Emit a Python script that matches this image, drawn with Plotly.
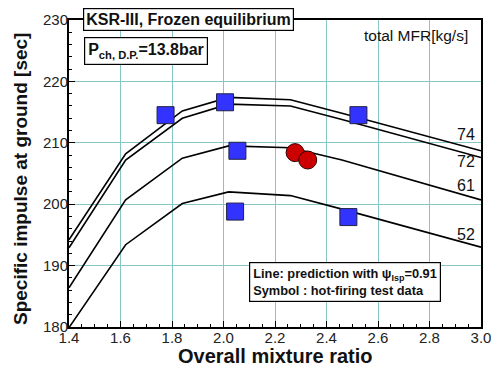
import plotly.graph_objects as go

# Prediction lines (Isp vs overall mixture ratio) for each total MFR [kg/s]
mr_line = [1.4, 1.62, 1.84, 2.02, 2.26, 2.46, 3.0]
isp_74 = [194.2, 208.2, 215.2, 217.4, 217.0, 214.8, 208.7]
isp_72 = [192.9, 207.2, 214.0, 216.3, 216.0, 213.8, 207.6]
isp_61 = [186.4, 200.7, 207.5, 209.5, 209.2, 207.2, 200.7]
isp_52 = [179.9, 193.4, 200.1, 202.0, 201.4, 199.2, 193.0]
mfr_labels = ["74", "72", "61", "52"]
label_x = [2.94, 2.94, 2.94, 2.94]
label_y = [211.4, 206.9, 203.1, 195.0]

# Hot-firing test data
sq_mr = [1.775, 2.006, 2.054, 2.045, 2.485, 2.524]
sq_isp = [214.5, 216.6, 208.7, 198.8, 197.9, 214.5]
ci_mr = [2.278, 2.327]
ci_isp = [208.4, 207.2]

FONT = "Liberation Sans, Arial, sans-serif"
fig = go.Figure()
for ys in [isp_74, isp_72, isp_61, isp_52]:
    fig.add_trace(go.Scatter(x=mr_line, y=ys, mode="lines",
                             line=dict(color="black", width=1.6),
                             showlegend=False, hoverinfo="skip"))
fig.add_trace(go.Scatter(x=sq_mr, y=sq_isp, mode="markers",
                         marker=dict(symbol="square", size=17, color="#3333FF",
                                     line=dict(color="#222244", width=1)),
                         showlegend=False))
fig.add_trace(go.Scatter(x=ci_mr, y=ci_isp, mode="markers",
                         marker=dict(symbol="circle", size=18, color="#CC0000",
                                     line=dict(color="#330000", width=1)),
                         showlegend=False))

for t, xx, yy in zip(mfr_labels, label_x, label_y):
    fig.add_annotation(x=xx, y=yy, text=t, showarrow=False,
                       font=dict(family=FONT, size=16, color="#111"),
                       xanchor="center", yanchor="middle")

fig.add_annotation(xref="paper", yref="paper", x=0.289, y=1.0016,
                   text="<b>KSR-III, Frozen equilibrium</b>", showarrow=False,
                   font=dict(family=FONT, size=16, color="#111"),
                   bgcolor="white", bordercolor="black", borderwidth=1.2,
                   borderpad=2, xanchor="center", yanchor="middle")
fig.add_annotation(xref="paper", yref="paper", x=0.188, y=0.899,
                   text="<b>P<sub>ch, D.P.</sub>=13.8bar</b>", showarrow=False,
                   font=dict(family=FONT, size=16, color="#111"),
                   bgcolor="white", bordercolor="black", borderwidth=1.2,
                   borderpad=3, xanchor="center", yanchor="middle")
fig.add_annotation(xref="paper", yref="paper", x=0.973, y=0.948,
                   text="total MFR[kg/s]", showarrow=False,
                   font=dict(family=FONT, size=15.5, color="#111"),
                   xanchor="right", yanchor="middle")
fig.add_annotation(xref="paper", yref="paper", x=0.670, y=0.1466,
                   text="<b>Line: prediction with \u03c8<sub>Isp</sub>=0.91<br>Symbol : hot-firing test data</b>",
                   showarrow=False, align="left",
                   font=dict(family=FONT, size=12.8, color="#111"),
                   bgcolor="white", bordercolor="black", borderwidth=1.2,
                   borderpad=3, xanchor="center", yanchor="middle")

# Axis titles as annotations for precise placement
fig.add_annotation(xref="paper", yref="paper", x=0.5, y=-0.0945,
                   text="<b>Overall mixture ratio</b>", showarrow=False,
                   font=dict(family=FONT, size=20, color="#111"),
                   xanchor="center", yanchor="middle")
fig.add_annotation(xref="paper", yref="paper", x=-0.119, y=0.482,
                   text="<b>Specific impulse at ground [sec]</b>", showarrow=False,
                   textangle=-90,
                   font=dict(family=FONT, size=19, color="#111"),
                   xanchor="center", yanchor="middle")

axis_common = dict(showline=True, linecolor="black", linewidth=2, mirror=True,
                   ticks="inside", ticklen=6, tickcolor="black", tickwidth=1,
                   showgrid=True, gridcolor="#86C6C6", gridwidth=1,
                   zeroline=False, automargin=False,
                   ticklabeloverflow="allow",
                   tickfont=dict(family=FONT, size=15, color="#222"))
fig.update_xaxes(range=[1.4, 3.0], dtick=0.2, tick0=1.4, tickformat=".1f",
                 ticklabelstandoff=-4,
                 minor=dict(dtick=0.05, ticks="inside", ticklen=3,
                            tickcolor="black", showgrid=False),
                 **axis_common)
fig.update_yaxes(range=[180, 230], dtick=10, ticklabelstandoff=-4,
                 minor=dict(dtick=2, ticks="inside", ticklen=3,
                            tickcolor="black", showgrid=False),
                 **axis_common)
fig.update_layout(width=491, height=367,
                  margin=dict(l=69, r=10, t=20, b=40),
                  paper_bgcolor="white", plot_bgcolor="white",
                  font=dict(family=FONT))
fig.write_html("out.html")
